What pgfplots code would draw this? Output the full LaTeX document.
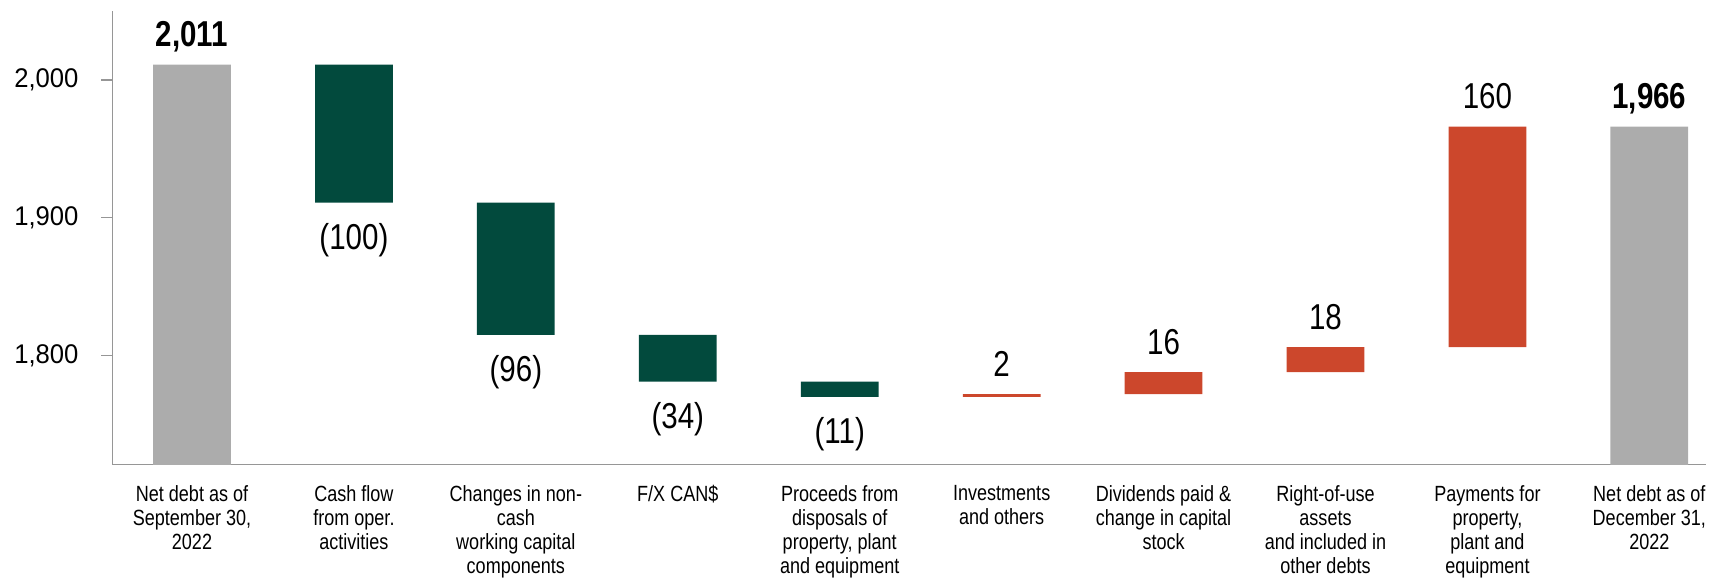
\documentclass[border=0pt]{standalone}
\usepackage{pgfplots}
\pgfplotsset{compat=1.18}
\usepackage{pgfplotstable}
\usepackage{fontspec}
\setmainfont[FakeStretch=0.82]{Liberation Sans}
\newfontfamily\tickfont[FakeStretch=0.95]{Liberation Sans}
\definecolor{cgray}{RGB}{172,172,172}
\definecolor{cgreen}{RGB}{2,74,61}
\definecolor{cred}{RGB}{204,71,44}
\definecolor{caxis}{RGB}{150,150,150}

\pgfplotstableread{
x base gray green red
0 0 2011 0 0
1 1911 0 100 0
2 1815 0 96 0
3 1781 0 34 0
4 1770 0 11 0
5 1770 0 0 2
6 1772 0 0 16
7 1788 0 0 18
8 1806 0 0 160
9 0 1966 0 0
}\data

\begin{document}
\begin{tikzpicture}
\begin{axis}[
  at={(0,0)}, anchor=south west,
  scale only axis, width=796.75bp, height=226.7bp,
  xmin=-0.491, xmax=9.35, ymin=1721, ymax=2050,
  ybar stacked, bar width=0.48,
  axis lines*=left,
  axis line style={caxis, line width=0.8pt},
  xtick={0,1,2,3,4,5,6,7,8,9},
  xticklabels={
    {Net debt as of\\September 30,\\2022},
    {Cash flow\\from oper.\\activities},
    {Changes in non-\\cash\\working capital\\components},
    {F/X CAN\$},
    {Proceeds from\\disposals of\\property, plant\\and equipment},
    {Investments\\and others},
    {Dividends paid \&\\change in capital\\stock},
    {Right-of-use\\assets\\and included in\\other debts},
    {Payments for\\property,\\plant and\\equipment},
    {Net debt as of\\December 31,\\2022}},
  x tick style={draw=none},
  ytick={1800,1900,2000},
  yticklabels={{1,800},{1,900},{2,000}},
  y tick style={caxis, line width=0.8pt},
  tick align=outside, major tick length=5.5bp,
  yticklabel style={font=\tickfont\fontsize{13.5bp}{15bp}\selectfont, xshift=-8bp},
  xticklabel style={font=\fontsize{11bp}{12bp}\selectfont, align=center, yshift=-1.5bp},
]
\addplot[draw=none, fill=none] table[x=x, y=base] {\data};
\addplot[draw=none, fill=cgray] table[x=x, y=gray] {\data};
\addplot[draw=none, fill=cgreen] table[x=x, y=green] {\data};
\addplot[draw=none, fill=cred] table[x=x, y=red] {\data};

\node[anchor=base, yshift=9bp, font=\bfseries\fontsize{18bp}{20bp}\selectfont] at (axis cs:0,2011) {2,011};
\node[anchor=base, yshift=-23.5bp, font=\fontsize{18bp}{20bp}\selectfont] at (axis cs:1,1911) {(100)};
\node[anchor=base, yshift=-23.5bp, font=\fontsize{18bp}{20bp}\selectfont] at (axis cs:2,1815) {(96)};
\node[anchor=base, yshift=-23.5bp, font=\fontsize{18bp}{20bp}\selectfont] at (axis cs:3,1781) {(34)};
\node[anchor=base, yshift=-23.5bp, font=\fontsize{18bp}{20bp}\selectfont] at (axis cs:4,1770) {(11)};
\node[anchor=base, yshift=9bp, font=\fontsize{18bp}{20bp}\selectfont] at (axis cs:5,1772) {2};
\node[anchor=base, yshift=9bp, font=\fontsize{18bp}{20bp}\selectfont] at (axis cs:6,1788) {16};
\node[anchor=base, yshift=9bp, font=\fontsize{18bp}{20bp}\selectfont] at (axis cs:7,1806) {18};
\node[anchor=base, yshift=9bp, font=\fontsize{18bp}{20bp}\selectfont] at (axis cs:8,1966) {160};
\node[anchor=base, yshift=9bp, font=\bfseries\fontsize{18bp}{20bp}\selectfont] at (axis cs:9,1966) {1,966};
\end{axis}
\pgfresetboundingbox
\useasboundingbox (-56.25bp,-58.35bp) rectangle (800.25bp,232.2bp);
\end{tikzpicture}
\end{document}
